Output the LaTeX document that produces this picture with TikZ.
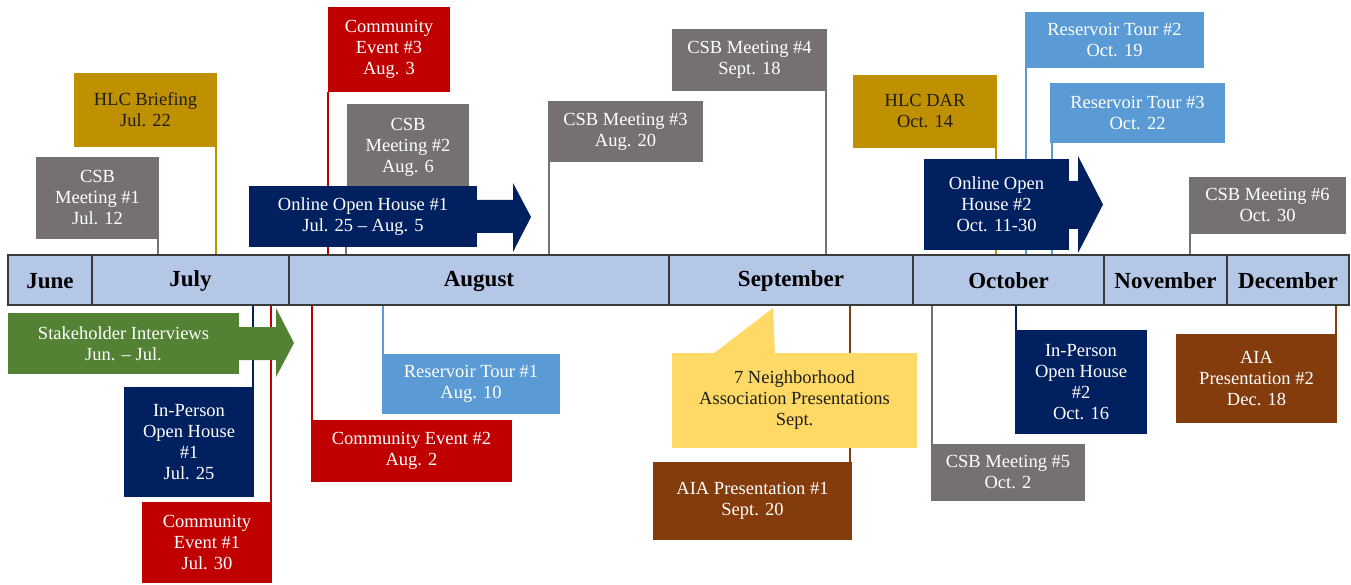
\documentclass[tikz,border=0pt]{standalone}
\usepackage{fontspec}
\setmainfont{Liberation Serif}
\definecolor{cgray}{HTML}{767171}
\definecolor{cgold}{HTML}{BF9000}
\definecolor{cred}{HTML}{C00000}
\definecolor{cnavy}{HTML}{002060}
\definecolor{clblue}{HTML}{5B9BD5}
\definecolor{cgreen}{HTML}{548235}
\definecolor{cbrown}{HTML}{843C0C}
\definecolor{cyellow}{HTML}{FFD966}
\definecolor{barfill}{HTML}{B4C7E7}
\definecolor{barline}{HTML}{3A3A3A}
\definecolor{darktext}{HTML}{1E1E1E}
\tikzset{
  evbox/.style={rectangle, inner sep=0pt, align=center, text=white,
    font=\fontsize{18.5}{21}\selectfont},
  darkbox/.style={evbox, text=darktext},
  conn/.style={line width=2pt},
  month/.style={inner sep=0pt, text=black, font=\fontsize{23}{25}\bfseries\selectfont},
}
\begin{document}
\begin{tikzpicture}[x=1pt,y=-1pt]
\useasboundingbox (0,0) rectangle (1351,585);

% timeline bar
\node[draw=barline, fill=barfill, line width=1.5pt, minimum width=1341pt, minimum height=50pt, inner sep=0pt] (bar) at (678.5,280) {};
\foreach \xx in {92,289,669,913,1104,1227}
  \draw[barline, line width=1.2pt] (\xx,255) -- (\xx,305);
\node[month] (mjun) at (50,281) {June};
\node[month] (mjul) at (190.5,281) {July};
\node[month] (maug) at (479,281) {August};
\node[month] (msep) at (791,281) {September};
\node[month] (moct) at (1008.5,281) {October};
\node[month] (mnov) at (1165.5,281) {November};
\node[month] (mdec) at (1288,281) {December};

% ---------- boxes above ----------
\coordinate (csb1c) at (97.5,198);
\coordinate (hlc1c) at (145.5,110);
\coordinate (ce3c) at (389,49.5);
\coordinate (csb2c) at (408,147);
\coordinate (csb3c) at (625.5,131.5);
\coordinate (csb4c) at (749.5,60);
\coordinate (hlcdc) at (925,111.5);
\coordinate (rt2c) at (1114.5,40);
\coordinate (rt3c) at (1137.5,113);
\coordinate (csb6c) at (1267.5,205.5);

% boxes below
\coordinate (ioh1c) at (189,442);
\coordinate (ce1c) at (207,542.5);
\coordinate (ce2c) at (411.5,451);
\coordinate (rt1c) at (471,384);
\coordinate (aia1c) at (752.5,501);
\coordinate (csb5c) at (1008,472.5);
\coordinate (ioh2c) at (1081,382);
\coordinate (aia2c) at (1256.5,378.5);

% define boxes as nodes (drawn after connectors via layering order below)
\begin{scope}
% connectors first (they lie behind boxes and arrows)
\path (csb1c) node[evbox, minimum width=123pt, minimum height=82pt] (csb1) {};
\path (hlc1c) node[evbox, minimum width=143pt, minimum height=74pt] (hlc1) {};
\path (ce3c) node[evbox, minimum width=122pt, minimum height=85pt] (ce3) {};
\path (csb2c) node[evbox, minimum width=122pt, minimum height=86pt] (csb2) {};
\path (csb3c) node[evbox, minimum width=155pt, minimum height=61pt] (csb3) {};
\path (csb4c) node[evbox, minimum width=155pt, minimum height=62pt] (csb4) {};
\path (hlcdc) node[evbox, minimum width=144pt, minimum height=73pt] (hlcd) {};
\path (rt2c) node[evbox, minimum width=179pt, minimum height=56pt] (rt2) {};
\path (rt3c) node[evbox, minimum width=175pt, minimum height=60pt] (rt3) {};
\path (csb6c) node[evbox, minimum width=157pt, minimum height=57pt] (csb6) {};
\path (ioh1c) node[evbox, minimum width=130pt, minimum height=110pt] (ioh1) {};
\path (ce1c) node[evbox, minimum width=130pt, minimum height=81pt] (ce1) {};
\path (ce2c) node[evbox, minimum width=201pt, minimum height=62pt] (ce2) {};
\path (rt1c) node[evbox, minimum width=178pt, minimum height=60pt] (rt1) {};
\path (aia1c) node[evbox, minimum width=199pt, minimum height=78pt] (aia1) {};
\path (csb5c) node[evbox, minimum width=154pt, minimum height=57pt] (csb5) {};
\path (ioh2c) node[evbox, minimum width=132pt, minimum height=104pt] (ioh2) {};
\path (aia2c) node[evbox, minimum width=161pt, minimum height=89pt] (aia2) {};
\end{scope}

% connectors above the bar
\draw[conn, cgray]  ([xshift=-1pt]csb1.south east) -- ([xshift=-1pt]csb1.south east |- bar.north);
\draw[conn, cgold]  ([xshift=-1.5pt]hlc1.south east) -- ([xshift=-1.5pt]hlc1.south east |- bar.north);
\draw[conn, cred]   ([xshift=0pt]ce3.south west) -- ([xshift=0pt]ce3.south west |- bar.north);
\draw[conn, cgray]  ([xshift=-1pt]csb2.south west) -- ([xshift=-1pt]csb2.south west |- bar.north);
\draw[conn, cgray]  ([xshift=1pt]csb3.south west) -- ([xshift=1pt]csb3.south west |- bar.north);
\draw[conn, cgray]  ([xshift=-1.5pt]csb4.south east) -- ([xshift=-1.5pt]csb4.south east |- bar.north);
\draw[conn, cgold]  ([xshift=-1pt]hlcd.south east) -- ([xshift=-1pt]hlcd.south east |- bar.north);
\draw[conn, clblue] ([xshift=1pt]rt2.south west) -- ([xshift=1pt]rt2.south west |- bar.north);
\draw[conn, clblue] ([xshift=2pt]rt3.south west) -- ([xshift=2pt]rt3.south west |- bar.north);
\draw[conn, cgray]  ([xshift=1pt]csb6.south west) -- ([xshift=1pt]csb6.south west |- bar.north);
% connectors below the bar
\draw[conn, cnavy]  ([xshift=-1pt]ioh1.north east) -- ([xshift=-1pt]ioh1.north east |- bar.south);
\draw[conn, cred]   ([xshift=-1.5pt]ce1.north east) -- ([xshift=-1.5pt]ce1.north east |- bar.south);
\draw[conn, cred]   ([xshift=1pt]ce2.north west) -- ([xshift=1pt]ce2.north west |- bar.south);
\draw[conn, clblue] ([xshift=1pt]rt1.north west) -- ([xshift=1pt]rt1.north west |- bar.south);
\draw[conn, cbrown] ([xshift=-2.5pt]aia1.north east) -- ([xshift=-2.5pt]aia1.north east |- bar.south);
\draw[conn, cgray]  ([xshift=1.5pt]csb5.north west) -- ([xshift=1.5pt]csb5.north west |- bar.south);
\draw[conn, cnavy]  ([xshift=1.5pt]ioh2.north west) -- ([xshift=1.5pt]ioh2.north west |- bar.south);
\draw[conn, cbrown] ([xshift=-1.5pt]aia2.north east) -- ([xshift=-1.5pt]aia2.north east |- bar.south);

% ---------- filled boxes ----------
\node[evbox, fill=cgray, minimum width=123pt, minimum height=82pt] at (csb1c) {CSB\\Meeting \#1\\Jul. 12};
\node[darkbox, fill=cgold, minimum width=143pt, minimum height=74pt] at (hlc1c) {HLC Briefing\\Jul. 22};
\node[evbox, fill=cred, minimum width=122pt, minimum height=85pt] at (ce3c) {Community\\Event \#3\\Aug. 3};
\node[evbox, fill=cgray, minimum width=122pt, minimum height=86pt] at (csb2c) {CSB\\Meeting \#2\\Aug. 6};
\node[evbox, fill=cgray, minimum width=155pt, minimum height=61pt] at (csb3c) {CSB Meeting \#3\\Aug. 20};
\node[evbox, fill=cgray, minimum width=155pt, minimum height=62pt] at (csb4c) {CSB Meeting \#4\\Sept. 18};
\node[darkbox, fill=cgold, minimum width=144pt, minimum height=73pt] at (hlcdc) {HLC DAR\\Oct. 14};
\node[evbox, fill=clblue, minimum width=179pt, minimum height=56pt] at (rt2c) {Reservoir Tour \#2\\Oct. 19};
\node[evbox, fill=clblue, minimum width=175pt, minimum height=60pt] at (rt3c) {Reservoir Tour \#3\\Oct. 22};
\node[evbox, fill=cgray, minimum width=157pt, minimum height=57pt] at (csb6c) {CSB Meeting \#6\\Oct. 30};

% online open house #1 arrow
\fill[cnavy] (476,200) -- (513,200) -- (513,183) -- (531,217) -- (513,252) -- (513,233) -- (476,233) -- cycle;
\node[evbox, fill=cnavy, minimum width=228pt, minimum height=61pt] (ooh1) at (363,216.5) {Online Open House \#1\\Jul. 25 – Aug. 5};

% online open house #2 arrow
\fill[cnavy] (1068,181) -- (1078,181) -- (1078,156) -- (1103,204.5) -- (1078,253) -- (1078,229) -- (1068,229) -- cycle;
\node[evbox, fill=cnavy, minimum width=145pt, minimum height=91pt] (ooh2) at (996.5,204.5) {Online Open\\House \#2\\Oct. 11-30};

% stakeholder interviews arrow
\fill[cgreen] (238,327) -- (276,327) -- (276,308) -- (294,343) -- (276,377) -- (276,360) -- (238,360) -- cycle;
\node[evbox, fill=cgreen, minimum width=231pt, minimum height=61pt] (si) at (123.5,343.5) {Stakeholder Interviews\\Jun. – Jul.};

% lower boxes
\node[evbox, fill=cnavy, minimum width=130pt, minimum height=110pt] at (ioh1c) {In-Person\\Open House\\\#1\\Jul. 25};
\node[evbox, fill=cred, minimum width=130pt, minimum height=81pt] at (ce1c) {Community\\Event \#1\\Jul. 30};
\node[evbox, fill=cred, minimum width=201pt, minimum height=62pt] at (ce2c) {Community Event \#2\\Aug. 2};
\node[evbox, fill=clblue, minimum width=178pt, minimum height=60pt] at (rt1c) {Reservoir Tour \#1\\Aug. 10};

% neighborhood callout
\fill[cyellow] (713,354) -- (773,308) -- (775,354) -- cycle;
\node[darkbox, fill=cyellow, minimum width=245pt, minimum height=95pt] (nap) at (794.5,400.5) {7 Neighborhood\\Association Presentations\\Sept.};

\node[evbox, fill=cbrown, minimum width=199pt, minimum height=78pt] at (aia1c) {AIA Presentation \#1\\Sept. 20};
\node[evbox, fill=cgray, minimum width=154pt, minimum height=57pt] at (csb5c) {CSB Meeting \#5\\Oct. 2};
\node[evbox, fill=cnavy, minimum width=132pt, minimum height=104pt] at (ioh2c) {In-Person\\Open House\\\#2\\Oct. 16};
\node[evbox, fill=cbrown, minimum width=161pt, minimum height=89pt] at (aia2c) {AIA\\Presentation \#2\\Dec. 18};
\end{tikzpicture}
\end{document}
